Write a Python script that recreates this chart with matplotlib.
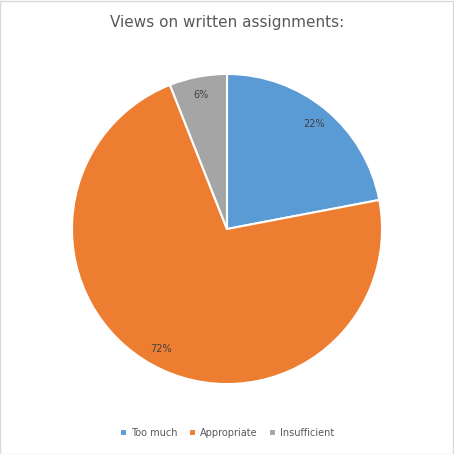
import matplotlib
matplotlib.use("Agg")
import matplotlib.pyplot as plt
from matplotlib.patches import Rectangle

categories = ["Too much", "Appropriate", "Insufficient"]
values = [22, 72, 6]
colors = ["#5b9bd5", "#ed7d31", "#a5a5a5"]

fig = plt.figure(figsize=(4.54, 4.54), dpi=100)
fig.patches.append(Rectangle((0.001, 0.001), 0.997, 0.997, transform=fig.transFigure,
                             fill=False, edgecolor="#d9d9d9", linewidth=1))
ax = fig.add_axes([0.5 - 0.3415, 0.4956 - 0.3415, 0.683, 0.683])
wedges, texts, autotexts = ax.pie(values, colors=colors, startangle=90, counterclock=False,
       autopct="%1.0f%%", pctdistance=0.88,
       wedgeprops=dict(edgecolor="white", linewidth=1.5),
       textprops=dict(fontsize=7, color="#404040"))
ax.set_aspect("equal")
ax.set_xlim(-1, 1)
ax.set_ylim(-1, 1)
fig.text(0.5, 0.951, "Views on written assignments:", ha="center", va="center",
         fontsize=11, color="#595959")
fig.legend(wedges, categories, loc="center", bbox_to_anchor=(0.5, 0.046), ncol=3,
           frameon=False, fontsize=7, handlelength=0.7, handleheight=0.7,
           columnspacing=1.2, handletextpad=0.4, labelcolor="#595959")
fig.savefig("out.png", dpi=100)
